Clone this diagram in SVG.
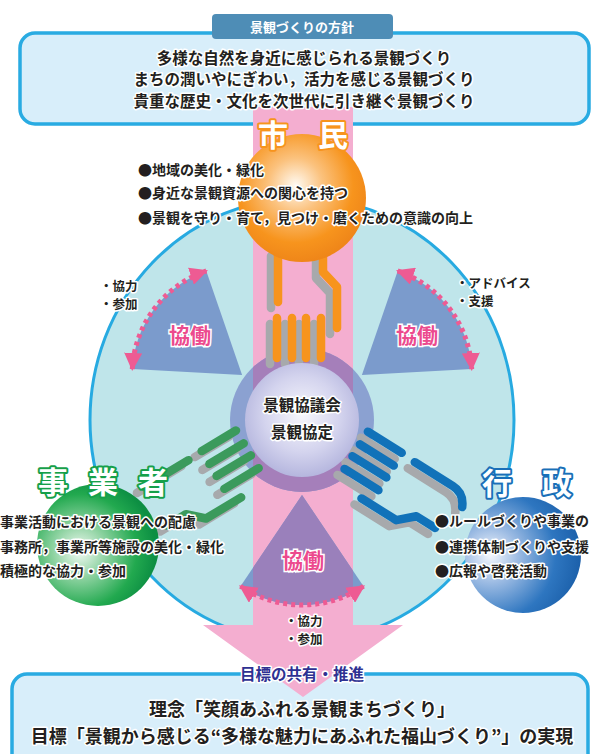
<svg xmlns="http://www.w3.org/2000/svg" xmlns:xlink="http://www.w3.org/1999/xlink" width="593" height="754" viewBox="0 0 593 754">
<style>
.t{font-family:"Noto Sans CJK JP","Noto Sans CJK SC",sans-serif;font-weight:bold;fill:#231f20;stroke:#fff;stroke-width:3;stroke-linejoin:round;paint-order:stroke}
.c{text-anchor:middle}
.box{fill:#d8eefa;stroke:#29abe2;stroke-width:3.5}
.kyo{font-family:"Noto Sans CJK JP",sans-serif;font-weight:bold;font-size:21px;fill:#ec4a8e;stroke:#fff;stroke-width:3;paint-order:stroke;text-anchor:middle}
.sec{fill:#7b9bcc}
.dots{fill:none;stroke:#ee5b93;stroke-width:5;stroke-dasharray:4 4;marker-start:url(#ah);marker-end:url(#ah)}
.lab{font-family:"Noto Sans CJK JP",sans-serif;font-weight:bold;font-size:30px;fill:#fff;stroke-width:4;paint-order:stroke;stroke-linejoin:round}
</style>
<defs>
<marker id="ah" viewBox="0 0 10 10" refX="9" refY="5" markerWidth="18" markerHeight="18" markerUnits="userSpaceOnUse" orient="auto-start-reverse"><path d="M0,0 L10,5 L0,10 z" fill="#ee5b93"/></marker>
<clipPath id="band"><rect x="253" y="107" width="100" height="600"/></clipPath>
<g id="hand" fill="none" stroke-width="8.5" stroke-linecap="round" stroke-linejoin="round">
<path d="M278,250 L278,302"/>
<path d="M323,250 L323,272 L337,287 L337,328"/>
<path d="M277,318 L277,358 M292,318 L292,358 M306,318 L306,358 M321,318 L321,358"/>
</g>
<g id="handB" fill="none" stroke-width="8.5" stroke-linecap="round" stroke-linejoin="round">
<path d="M278,302 L278,257 Q278,244 291,238"/>
<path d="M323,250 L323,272 L337,287 L337,328"/>
<path d="M277,318 L277,358 M292,318 L292,358 M306,318 L306,358 M321,318 L321,358"/>
</g>
<radialGradient id="gO" cx="0.45" cy="0.4" r="0.6"><stop offset="0" stop-color="#fffaf2"/><stop offset="0.35" stop-color="#fbc27e"/><stop offset="0.75" stop-color="#f7941d"/><stop offset="1" stop-color="#ef8619"/></radialGradient>
<radialGradient id="gG" cx="0.35" cy="0.55" r="0.62"><stop offset="0" stop-color="#f2faf4"/><stop offset="0.35" stop-color="#8fd3a2"/><stop offset="0.75" stop-color="#22a94f"/><stop offset="1" stop-color="#0d8f43"/></radialGradient>
<radialGradient id="gB" cx="0.22" cy="0.5" r="0.8"><stop offset="0" stop-color="#f5f8fd"/><stop offset="0.3" stop-color="#9cbbe3"/><stop offset="0.7" stop-color="#2e76c0"/><stop offset="1" stop-color="#1a5ea8"/></radialGradient>
<radialGradient id="gC" cx="0.5" cy="0.45" r="0.55"><stop offset="0" stop-color="#f7f7fc"/><stop offset="0.6" stop-color="#d4d4ee"/><stop offset="1" stop-color="#b5b6de"/></radialGradient>
</defs>

<g id="policy">
<rect class="box" x="20" y="33" width="569" height="91" rx="15"/>
<rect x="212" y="14" width="181" height="25" rx="4" fill="#4e8db6"/>
<text class="c" x="302" y="32" font-family="Noto Sans CJK JP,sans-serif" font-weight="bold" font-size="13" fill="#fff">景観づくりの方針</text>
</g>

<ellipse id="field" cx="302" cy="420" rx="212" ry="222" fill="#bfe5ea" stroke="#27aae1" stroke-width="3"/>

<g id="goal">
<rect class="box" x="12" y="674" width="576" height="110" rx="15"/>
</g>

<g id="connectors">
<path id="flow" d="M253,107 L353,107 L353,625 L403,625 L303,697 L203,625 L253,625 Z" fill="#f4aed0"/>
<path class="sec" d="M242.1,374.9 L132.3,369.1 A110,110 0 0 1 206.3,270.9 Z"/>
<path class="sec" d="M361.9,374.9 L397.7,270.9 A110,110 0 0 1 471.7,369.1 Z"/>
<path class="sec" d="M302,495 L363.5,586.2 A110,110 0 0 1 240.5,586.2 Z"/>
<path d="M302,495 L363.5,586.2 A110,110 0 0 1 240.5,586.2 Z" fill="#9a80bb" clip-path="url(#band)"/>
<path class="dots" d="M132.3,369.1 A110,110 0 0 1 206.3,270.9"/>
<path class="dots" d="M397.7,270.9 A110,110 0 0 1 471.7,369.1"/>
<path class="dots" d="M363.5,586.2 A110,110 0 0 1 240.5,586.2"/>
</g>

<g id="council-ring">
<circle cx="302" cy="420" r="72" fill="#8ba1d1"/>
<circle cx="302" cy="420" r="72" fill="#a57fba" clip-path="url(#band)"/>
</g>

<g id="hands">
<use xlink:href="#hand" href="#hand" stroke="#a7a9ac" transform="translate(-7,6)"/>
<use xlink:href="#hand" href="#hand" stroke="#f7941d"/>
<use xlink:href="#hand" href="#hand" stroke="#a7a9ac" transform="translate(-7,6) translate(302,420) rotate(-121) scale(-1,1) translate(-302,-420)"/>
<use xlink:href="#hand" href="#hand" stroke="#3b9a5c" transform="translate(302,420) rotate(-121) scale(-1,1) translate(-302,-420)"/>
<use xlink:href="#handB" href="#handB" stroke="#a7a9ac" transform="translate(-7,6) translate(302,420) rotate(122) translate(-302,-420)"/>
<use xlink:href="#handB" href="#handB" stroke="#1172b9" transform="translate(302,420) rotate(122) translate(-302,-420)"/>
</g>

<g id="council">
<circle cx="302" cy="420" r="57" fill="url(#gC)"/>
<text class="t c" x="302" y="411" font-size="15.5">景観協議会</text>
<text class="t c" x="302" y="438" font-size="15.5">景観協定</text>
</g>

<g id="citizen">
<circle cx="302" cy="198" r="64" fill="url(#gO)"/>
<text class="lab c" x="303" y="146" stroke="#f7941d" font-size="29">市　民</text>
<text class="t" x="138" y="175" font-size="14">●地域の美化・緑化</text>
<text class="t" x="138" y="198" font-size="14">●身近な景観資源への関心を持つ</text>
<text class="t" x="138" y="223" font-size="14">●景観を守り・育て，見つけ・磨くための意識の向上</text>
</g>

<g id="business">
<circle cx="98" cy="545" r="61" fill="url(#gG)"/>
<text class="lab" x="38" y="493" stroke="#16a04a" letter-spacing="20">事業者</text>
<text class="t" x="0" y="527" font-size="14">事業活動における景観への配慮</text>
<text class="t" x="0" y="552" font-size="14">事務所，事業所等施設の美化・緑化</text>
<text class="t" x="0" y="576" font-size="14">積極的な協力・参加</text>
</g>

<g id="government">
<circle cx="523" cy="555" r="58" fill="url(#gB)"/>
<text class="lab" x="482" y="494" stroke="#1a6fb8">行　政</text>
<text class="t" x="435" y="526" font-size="14">●ルールづくりや事業の</text>
<text class="t" x="435" y="552" font-size="14">●連携体制づくりや支援</text>
<text class="t" x="435" y="576" font-size="14">●広報や啓発活動</text>
</g>

<g id="labels">
<text class="kyo" x="190" y="343">協働</text>
<text class="kyo" x="417" y="343">協働</text>
<text class="kyo" x="303" y="568">協働</text>
<text class="t" x="100" y="291" font-size="12.5">・協力</text>
<text class="t" x="100" y="309" font-size="12.5">・参加</text>
<text class="t" x="456" y="288" font-size="12.5">・アドバイス</text>
<text class="t" x="456" y="306" font-size="12.5">・支援</text>
<text class="t" x="285" y="626" font-size="12.5">・協力</text>
<text class="t" x="285" y="644" font-size="12.5">・参加</text>
</g>

<g id="policy-text">
<text class="t c" x="304" y="64" font-size="15.5">多様な自然を身近に感じられる景観づくり</text>
<text class="t c" x="304" y="85" font-size="15.5">まちの潤いやにぎわい，活力を感じる景観づくり</text>
<text class="t c" x="304" y="107" font-size="15.5">貴重な歴史・文化を次世代に引き継ぐ景観づくり</text>
</g>

<g id="goal-text">
<text class="t c" x="302" y="680" font-size="15.5" style="fill:#2e3192">目標の共有・推進</text>
<text class="t c" x="302" y="716" font-size="18">理念「笑顔あふれる景観まちづくり」</text>
<text class="t c" x="302" y="743" font-size="18">目標「景観から感じる“多様な魅力にあふれた福山づくり”」の実現</text>
</g>
</svg>
